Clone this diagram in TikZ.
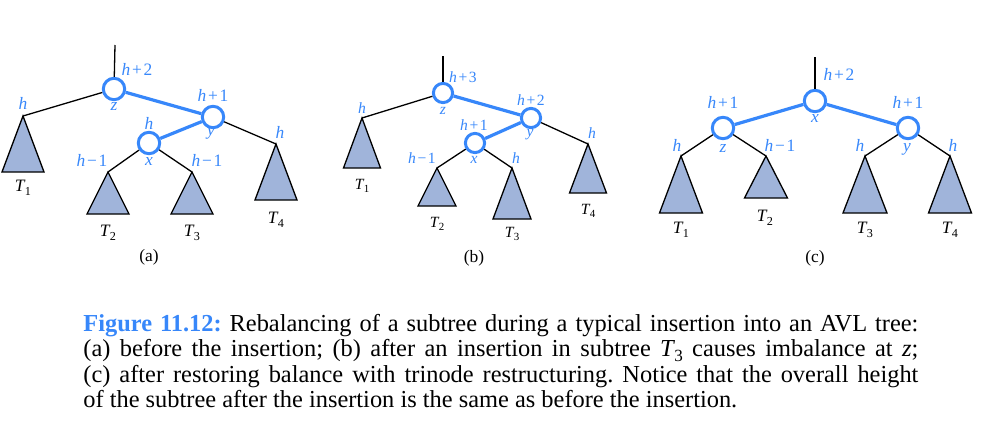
\documentclass[tikz,border=0pt]{standalone}
\usepackage{fontspec}
\setmainfont{Liberation Serif}
\frenchspacing
\definecolor{treeblue}{RGB}{55,135,250}
\definecolor{trifill}{RGB}{160,180,218}
\newcommand{\hup}[1]{\textit{h}\hspace{0.1em}+\hspace{0.1em}#1}
\newcommand{\hdown}[1]{\textit{h}\hspace{0.1em}−\hspace{0.1em}#1}
\newcommand{\Tsub}[1]{\textit{T}\kern-0.04em\raisebox{-0.45ex}{\scalebox{0.7}{#1}}}
% subtree triangle: apex, half width, height
\newcommand{\subtree}[3]{\filldraw[tri] (#1) -- ++(-#2,#3) -- ++(2*#2,0) -- cycle;}

\begin{document}
\begin{tikzpicture}[x=0.5pt,y=-0.5pt,
  knot/.style={circle,draw=treeblue,line width=1.5pt,fill=white,inner sep=0pt,minimum size=10.7pt},
  heavy/.style={draw=treeblue,line width=1.6pt},
  link/.style={draw=black,line width=0.65pt},
  tri/.style={fill=trifill,draw=black,line width=0.65pt,line join=miter},
  lab/.style={text=treeblue,inner sep=0pt,font=\fontsize{8.7}{10}\selectfont},
  sublab/.style={inner sep=0pt,font=\fontsize{8.7}{10}\selectfont},
  captionline/.style={anchor=base west,inner sep=0pt,font=\fontsize{12.2}{14}\selectfont}]
  \useasboundingbox (0,0) rectangle (991,445);

  % (a) before the insertion
  \node[knot] (za) at (114,89) {};
  \node[knot] (ya) at (213,117) {};
  \node[knot] (xa) at (149,143) {};
  \coordinate (ra) at (115,45);
  \coordinate (t1a) at (23,116);
  \coordinate (t2a) at (108,172);
  \coordinate (t3a) at (192,172);
  \coordinate (t4a) at (276,144);
  \subtree{t1a}{21}{56}
  \subtree{t2a}{21}{42}
  \subtree{t3a}{21}{42}
  \subtree{t4a}{21}{56}
  \draw[link] (ra) -- (za);
  \draw[link] (za) -- (t1a);
  \draw[link] (xa) -- (t2a);
  \draw[link] (xa) -- (t3a);
  \draw[link] (ya) -- (t4a);
  \draw[heavy] (za) -- (ya);
  \draw[heavy] (ya) -- (xa);
  \node[lab] (hza) at (137,69) {\hup{2}};
  \node[lab] (nza) at (114,107) {\textit{z}};
  \node[lab] (hya) at (213,95) {\hup{1}};
  \node[lab] (nya) at (211,133) {\textit{y}};
  \node[lab] (hxa) at (149,123) {\textit{h}};
  \node[lab] (nxa) at (149,162) {\textit{x}};
  \node[lab] (h1a) at (23,103) {\textit{h}};
  \node[lab] (h2a) at (92,160) {\hdown{1}};
  \node[lab] (h3a) at (207,160) {\hdown{1}};
  \node[lab] (h4a) at (280,132) {\textit{h}};
  \node[sublab] (s1a) at (23,188) {\Tsub{1}};
  \node[sublab] (s2a) at (108,233) {\Tsub{2}};
  \node[sublab] (s3a) at (192,233) {\Tsub{3}};
  \node[sublab] (s4a) at (276,220) {\Tsub{4}};
  \node[sublab] (pa) at (149,257) {(a)};

  % (b) after the insertion in T3
  \begin{scope}[knot/.append style={minimum size=9.6pt},
    lab/.append style={font=\fontsize{7.8}{9}\selectfont},
    sublab/.append style={font=\fontsize{7.8}{9}\selectfont}]
  \node[knot] (zb) at (443,93) {};
  \node[knot] (yb) at (531,118) {};
  \node[knot] (xb) at (475,143) {};
  \coordinate (rb) at (443,56);
  \coordinate (t1b) at (362,118);
  \coordinate (t2b) at (437,168);
  \coordinate (t3b) at (512,168);
  \coordinate (t4b) at (588,144);
  \subtree{t1b}{18.5}{50}
  \subtree{t2b}{19}{38}
  \subtree{t3b}{19}{51}
  \subtree{t4b}{18.5}{49}
  \draw[link] (rb) -- (zb);
  \draw[link] (zb) -- (t1b);
  \draw[link] (xb) -- (t2b);
  \draw[link] (xb) -- (t3b);
  \draw[link] (yb) -- (t4b);
  \draw[heavy] (zb) -- (yb);
  \draw[heavy] (yb) -- (xb);
  \node[lab] (hzb) at (463,77) {\hup{3}};
  \node[lab] (nzb) at (443,111) {\textit{z}};
  \node[lab] (hyb) at (531,100) {\hup{2}};
  \node[lab] (nyb) at (530,135) {\textit{y}};
  \node[lab] (hxb) at (474,125) {\hup{1}};
  \node[lab] (nxb) at (474,160) {\textit{x}};
  \node[lab] (h1b) at (362,108) {\textit{h}};
  \node[lab] (h2b) at (422,158) {\hdown{1}};
  \node[lab] (h3b) at (516,158) {\textit{h}};
  \node[lab] (h4b) at (592,133) {\textit{h}};
  \node[sublab] (s1b) at (362,186) {\Tsub{1}};
  \node[sublab] (s2b) at (437,224) {\Tsub{2}};
  \node[sublab] (s3b) at (512,234) {\Tsub{3}};
  \node[sublab] (s4b) at (588,211) {\Tsub{4}};
  \end{scope}
  \node[sublab] (pb) at (474,258) {(b)};

  % (c) after trinode restructuring
  \node[knot] (xc) at (815,101) {};
  \node[knot] (zc) at (723,128) {};
  \node[knot] (yc) at (908,128) {};
  \coordinate (rc) at (815,57);
  \coordinate (t1c) at (681,156);
  \coordinate (t2c) at (766,156);
  \coordinate (t3c) at (865,156);
  \coordinate (t4c) at (950,156);
  \subtree{t1c}{21.5}{57}
  \subtree{t2c}{21.5}{42}
  \subtree{t3c}{22}{57}
  \subtree{t4c}{21.5}{57}
  \draw[link] (rc) -- (xc);
  \draw[link] (zc) -- (t1c);
  \draw[link] (zc) -- (t2c);
  \draw[link] (yc) -- (t3c);
  \draw[link] (yc) -- (t4c);
  \draw[heavy] (xc) -- (zc);
  \draw[heavy] (xc) -- (yc);
  \node[lab] (hxc) at (839,74) {\hup{2}};
  \node[lab] (nxc) at (815,119) {\textit{x}};
  \node[lab] (hzc) at (723,102) {\hup{1}};
  \node[lab] (nzc) at (723,149) {\textit{z}};
  \node[lab] (hyc) at (908,102) {\hup{1}};
  \node[lab] (nyc) at (907,149) {\textit{y}};
  \node[lab] (h1c) at (677,145) {\textit{h}};
  \node[lab] (h2c) at (780,145) {\hdown{1}};
  \node[lab] (h3c) at (860,145) {\textit{h}};
  \node[lab] (h4c) at (953,145) {\textit{h}};
  \node[sublab] (s1c) at (681,230) {\Tsub{1}};
  \node[sublab] (s2c) at (765,218) {\Tsub{2}};
  \node[sublab] (s3c) at (865,230) {\Tsub{3}};
  \node[sublab] (s4c) at (950,230) {\Tsub{4}};
  \node[sublab] (pc) at (815,258) {(c)};

  % caption
  \node[captionline] (cap1) at (83,331) {\makebox[417.5pt][s]{\textcolor{treeblue}{\textbf{Figure 11.12:}} Rebalancing of a subtree during a typical insertion into an AVL tree:}};
  \node[captionline] (cap2) at (83,356.5) {\makebox[417.5pt][s]{(a) before the insertion; (b) after an insertion in subtree \Tsub{3} causes imbalance at \textit{z};}};
  \node[captionline] (cap3) at (83,382) {\makebox[417.5pt][s]{(c) after restoring balance with trinode restructuring. Notice that the overall height}};
  \node[captionline] (cap4) at (83,407.5) {of the subtree after the insertion is the same as before the insertion.};
\end{tikzpicture}
\end{document}
